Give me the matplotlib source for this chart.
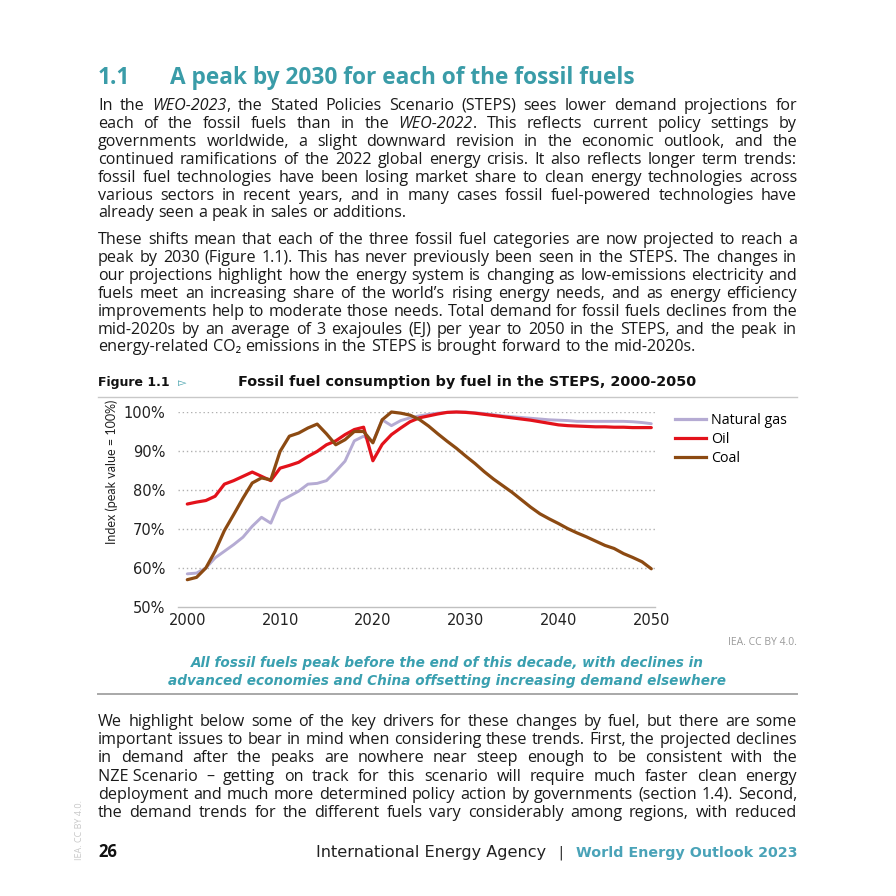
import matplotlib
matplotlib.use("Agg")
import matplotlib.pyplot as plt
from matplotlib.lines import Line2D

# chart data (index, peak value = 100%)
years = list(range(2000, 2051))
gas = [58.5, 58.7, 60.0, 62.6, 64.3, 66.0, 67.9, 70.7, 73.0, 71.5,
       77.1, 78.4, 79.7, 81.5, 81.7, 82.4, 84.8, 87.4, 92.6, 93.8,
       92.3, 98.0, 96.5, 97.8, 98.5, 99.0, 99.4, 99.7, 99.9, 100.0,
       100.0, 99.8, 99.6, 99.3, 99.0, 98.8, 98.6, 98.4, 98.2, 98.0,
       97.9, 97.8, 97.6, 97.6, 97.6, 97.6, 97.6, 97.6, 97.5, 97.3, 97.0]
oil = [76.4, 76.9, 77.3, 78.4, 81.5, 82.4, 83.5, 84.6, 83.5, 82.4,
       85.6, 86.3, 87.1, 88.6, 89.9, 91.6, 92.6, 94.2, 95.5, 96.1,
       87.5, 91.7, 94.2, 95.9, 97.5, 98.5, 99.0, 99.5, 99.9, 100.0,
       99.9, 99.7, 99.4, 99.1, 98.8, 98.5, 98.2, 97.9, 97.5, 97.1,
       96.7, 96.5, 96.4, 96.3, 96.2, 96.2, 96.1, 96.1, 96.0, 96.0, 96.0]
coal = [57.0, 57.6, 60.0, 64.3, 69.6, 73.7, 77.9, 81.8, 83.1, 82.6,
        89.9, 93.8, 94.6, 95.9, 96.9, 94.4, 91.6, 92.9, 95.0, 95.0,
        92.1, 98.0, 100.0, 99.7, 99.2, 98.1, 96.4, 94.4, 92.5, 90.7,
        88.7, 86.8, 84.7, 82.8, 81.1, 79.4, 77.5, 75.6, 73.9, 72.6,
        71.4, 70.1, 69.0, 68.0, 66.9, 65.8, 65.0, 63.7, 62.7, 61.6, 59.8]
series = ["Natural gas", "Oil", "Coal"]
colors = ["#b5abd3", "#e3121b", "#8c4a12"]
yticks = [50, 60, 70, 80, 90, 100]
xticks = [2000, 2010, 2020, 2030, 2040, 2050]

para1 = [
    "In the *WEO-2023*, the Stated Policies Scenario (STEPS) sees lower demand projections for",
    "each of the fossil fuels than in the *WEO-2022*. This reflects current policy settings by",
    "governments worldwide, a slight downward revision in the economic outlook, and the",
    "continued ramifications of the 2022 global energy crisis. It also reflects longer term trends:",
    "fossil fuel technologies have been losing market share to clean energy technologies across",
    "various sectors in recent years, and in many cases fossil fuel-powered technologies have",
    "already seen a peak in sales or additions.",
]
para2 = [
    "These shifts mean that each of the three fossil fuel categories are now projected to reach a",
    "peak by 2030 (Figure 1.1). This has never previously been seen in the STEPS. The changes in",
    "our projections highlight how the energy system is changing as low-emissions electricity and",
    "fuels meet an increasing share of the world\u2019s rising energy needs, and as energy efficiency",
    "improvements help to moderate those needs. Total demand for fossil fuels declines from the",
    "mid-2020s by an average of 3 exajoules (EJ) per year to 2050 in the STEPS, and the peak in",
    "energy-related CO\u2082 emissions in the STEPS is brought forward to the mid-2020s.",
]
para3 = [
    "We highlight below some of the key drivers for these changes by fuel, but there are some",
    "important issues to bear in mind when considering these trends. First, the projected declines",
    "in demand after the peaks are nowhere near steep enough to be consistent with the",
    "NZE\u00a0Scenario \u2013 getting on track for this scenario will require much faster clean energy",
    "deployment and much more determined policy action by governments (section 1.4). Second,",
    "the demand trends for the different fuels vary considerably among regions, with reduced",
]

TEAL = "#3a9ca8"
BODY = ["Open Sans", "DejaVu Sans"]
HEAD = ["DejaVu Sans"]

fig = plt.figure(figsize=(8.96, 8.96), dpi=100)
fig.patch.set_facecolor("white")
page = fig.add_axes([0, 0, 1, 1])
page.set_xlim(0, 896)
page.set_ylim(896, 0)
page.axis("off")
renderer = fig.canvas.get_renderer()


def text_width(t):
    return t.get_window_extent(renderer).width


def make_words(line, y, size):
    groups = []
    for w in line.split(" "):
        items = []
        for i, p in enumerate(w.split("*")):
            if p:
                items.append(page.text(0, y, p, fontsize=size, family=BODY, color="#1a1a1a",
                                       style="italic" if i % 2 else "normal",
                                       va="baseline", ha="left"))
        groups.append(items)
    return groups


def space_width(size):
    a = page.text(0, 0, "a a", fontsize=size, family=BODY)
    b = page.text(0, 0, "aa", fontsize=size, family=BODY)
    s = text_width(a) - text_width(b)
    a.remove()
    b.remove()
    return s


def natural_width(line, size):
    groups = make_words(line, 0, size)
    total = sum(text_width(t) for g in groups for t in g)
    for g in groups:
        for t in g:
            t.remove()
    return total + space_width(size) * (len(groups) - 1)


def draw_line(line, x0, y, width, justify, size):
    groups = make_words(line, y, size)
    widths = [[text_width(t) for t in g] for g in groups]
    total = sum(sum(w) for w in widths)
    if justify and len(groups) > 1:
        gap = (width - total) / (len(groups) - 1)
    else:
        gap = space_width(size)
    x = x0
    for g, ws in zip(groups, widths):
        for t, w in zip(g, ws):
            t.set_x(x)
            x += w
        x += gap


L, R = 98, 797
W = R - L

# body size: the tightest justified line fills the column
full_lines = para1[:-1] + para2[:-1] + para3
base = 10.0
body_size = base * min(W / natural_width(s, base) for s in full_lines) * 0.998


def draw_para(lines, x0, y0, step, last_justified=False):
    for i, line in enumerate(lines):
        last = i == len(lines) - 1
        draw_line(line, x0, y0 + i * step, W, (not last) or last_justified, body_size)


# section title
page.text(L, 84, "1.1", fontsize=16.3, family=["Open Sans"], weight="bold", color=TEAL, va="baseline")
page.text(170, 84, "A peak by 2030 for each of the fossil fuels", fontsize=16.3,
          family=["Open Sans"], weight="bold", color=TEAL, va="baseline")

draw_para(para1, L, 110, 17.9)
draw_para(para2, L, 244, 17.9)
draw_para(para3, L, 726, 18.2, last_justified=True)

# figure caption
page.text(L, 386, "Figure 1.1", fontsize=9, family=HEAD, weight="heavy", color="#111111", va="baseline")
page.text(178, 386, "\u25bb", fontsize=8, family=HEAD, color=TEAL, va="baseline")
page.text(238, 386, "Fossil fuel consumption by fuel in the STEPS, 2000-2050", fontsize=10.4,
          family=HEAD, weight="bold", color="#111111", va="baseline")
page.plot([L, R], [397, 397], color="#c8c8c8", lw=1.0)

# chart
ax = fig.add_axes([178 / 896, 1 - 607 / 896, (655 - 178) / 896, (607 - 412) / 896])
ax.set_facecolor("none")
for name, vals, col in zip(series, [gas, oil, coal], colors):
    ax.plot(years, vals, color=col, lw=2.3 if name != "Natural gas" else 2.1,
            label=name, clip_on=False, solid_capstyle="round")
ax.set_xlim(1999.0, 2050.4)
ax.set_ylim(50, 100)
ax.set_yticks(yticks)
ax.set_yticklabels([f"{v}%" for v in yticks])
ax.set_xticks(xticks)
for v in yticks[1:]:
    ax.axhline(v, color="#b0b0b0", lw=1.0, ls=(0, (1, 2)), zorder=0)
for s in ["top", "right", "left"]:
    ax.spines[s].set_visible(False)
ax.spines["bottom"].set_color("#c0c0c0")
ax.spines["bottom"].set_linewidth(1.0)
ax.tick_params(length=0, labelsize=10.5, colors="#222222")
ax.tick_params(axis="y", pad=9)
ax.tick_params(axis="x", pad=4)
for lab in ax.get_xticklabels() + ax.get_yticklabels():
    lab.set_family(HEAD)
fig.text(112 / 896, 1 - 472 / 896, "Index (peak value = 100%)", rotation=90, fontsize=9,
         family=["Lato"], color="#222222", ha="center", va="center")
handles = [Line2D([0], [0], color=c, lw=2.3) for c in colors]
ax.legend(handles, series, loc="upper left", bbox_to_anchor=(675 / 896, 1 - 413 / 896),
          bbox_transform=fig.transFigure, frameon=False, handlelength=2.2,
          handletextpad=0.3, labelspacing=0.28, borderpad=0, borderaxespad=0,
          prop={"family": BODY, "size": 10.3})

page.text(R, 645, "IEA. CC BY 4.0.", fontsize=7.5, family=BODY, color="#9a9a9a", ha="right", va="baseline")
page.text(447, 667, "All fossil fuels peak before the end of this decade, with declines in",
          fontsize=9.8, family=HEAD, weight="bold", style="italic", color="#3aa0b0", ha="center", va="baseline")
page.text(447, 685, "advanced economies and China offsetting increasing demand elsewhere",
          fontsize=9.8, family=HEAD, weight="bold", style="italic", color="#3aa0b0", ha="center", va="baseline")
page.plot([L, R], [694, 694], color="#a8a8a8", lw=1.4)

# footer
page.text(L, 857, "26", fontsize=12, family=["Open Sans"], weight="bold", color="#111111", va="baseline")
page.text(546, 857, "International Energy Agency", fontsize=11.6, family=HEAD, color="#222222",
          ha="right", va="baseline")
page.text(561, 857, "|", fontsize=10, family=HEAD, color="#222222", ha="center", va="baseline")
page.text(R, 857, "World Energy Outlook 2023", fontsize=10.3, family=HEAD, weight="bold",
          color="#4aa3b8", ha="right", va="baseline")
page.text(80, 830, "IEA. CC BY 4.0.", rotation=90, fontsize=6.5, family=BODY, color="#c8c8c8",
          ha="center", va="center")

fig.savefig("out.png", dpi=100)
